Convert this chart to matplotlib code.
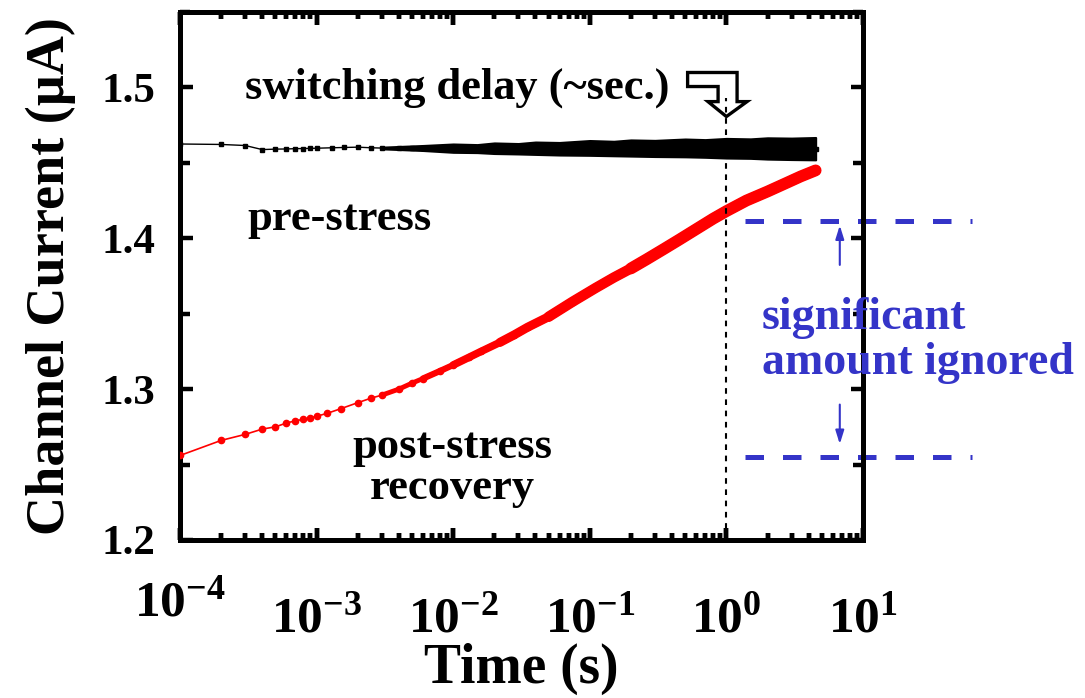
import matplotlib
matplotlib.use('Agg')
import matplotlib.pyplot as plt
import matplotlib.transforms as mtransforms
from matplotlib.patches import Polygon
from matplotlib.ticker import FixedLocator, FixedFormatter, MultipleLocator, NullFormatter

plt.rcParams['font.family'] = ['Liberation Serif', 'DejaVu Serif']
plt.rcParams['font.weight'] = 'bold'
plt.rcParams['mathtext.fontset'] = 'custom'
plt.rcParams['mathtext.rm'] = 'Liberation Serif:bold'
plt.rcParams['mathtext.bf'] = 'Liberation Serif:bold'

# pre-stress current (black), sparse markers
t_pre = [1e-4, 2e-4, 3e-4, 4e-4, 5e-4, 6e-4, 7e-4, 8e-4, 9e-4, 1e-3,
         1.3e-3, 1.6e-3, 2e-3, 2.5e-3, 3e-3, 4e-3, 5e-3, 6e-3, 8e-3, 1e-2,
         1.5e-2, 2e-2, 3e-2, 5e-2, 7e-2, 0.1, 0.15, 0.2, 0.3, 0.5, 0.7, 1.0,
         1.5, 2.0, 3.0, 4.5]
i_pre = [1.4625, 1.4622, 1.4615, 1.4588, 1.4591, 1.4592, 1.4594, 1.4595, 1.4596, 1.4597,
         1.4600, 1.4602, 1.4604, 1.4600, 1.4598, 1.4601, 1.4597, 1.4600, 1.4596, 1.4598,
         1.4600, 1.4596, 1.4598, 1.4595, 1.4597, 1.4596, 1.4598, 1.4595, 1.4597, 1.4596,
         1.4598, 1.4596, 1.4597, 1.4595, 1.4596, 1.4594]

# noise band of the pre-stress trace (upper / lower edge)
t_band = [3e-3, 6e-3, 1e-2, 1.5e-2, 2e-2, 3e-2, 4e-2, 6e-2, 0.1, 0.15, 0.2, 0.3,
          0.5, 0.7, 1.0, 1.5, 2.0, 3.0, 4.5]
band_hi = [1.4604, 1.4615, 1.4625, 1.4621, 1.4632, 1.4628, 1.4638, 1.4635, 1.4648, 1.4643,
           1.4652, 1.4649, 1.4658, 1.4654, 1.4662, 1.4659, 1.4666, 1.4664, 1.4668]
band_lo = [1.4593, 1.4582, 1.4570, 1.4568, 1.4562, 1.4559, 1.4556, 1.4552, 1.4550, 1.4547,
           1.4545, 1.4542, 1.4540, 1.4537, 1.4532, 1.4530, 1.4525, 1.4522, 1.4520]

# post-stress recovery current (red)
t_post = [1e-4, 2e-4, 3e-4, 4e-4, 5e-4, 6e-4, 7e-4, 8e-4, 9e-4, 1e-3,
          1.2e-3, 1.5e-3, 2e-3, 2.5e-3, 3e-3, 4e-3, 5e-3, 6e-3, 8e-3, 1e-2,
          1.3e-2, 1.6e-2, 2.2e-2, 2.8e-2, 3.5e-2, 5e-2, 7.5e-2, 0.11, 0.15, 0.2,
          0.26, 0.35, 0.45, 0.6, 0.8, 1.0, 1.4, 2.0, 2.8, 3.5, 4.5]
i_post = [1.256, 1.266, 1.270, 1.2735, 1.275, 1.2775, 1.279, 1.280, 1.281, 1.282,
          1.284, 1.287, 1.291, 1.294, 1.296, 1.300, 1.304, 1.307, 1.312, 1.316,
          1.321, 1.325, 1.331, 1.336, 1.341, 1.348, 1.358, 1.367, 1.374, 1.380,
          1.386, 1.393, 1.399, 1.406, 1.413, 1.418, 1.425, 1.431, 1.437, 1.441, 1.445]

xticks = [1e-4, 1e-3, 1e-2, 1e-1, 1e0, 1e1]
xtick_labels = [r'$\mathbf{10^{-4}}$', r'$\mathbf{10^{-3}}$', r'$\mathbf{10^{-2}}$',
                r'$\mathbf{10^{-1}}$', r'$\mathbf{10^{0}}$', r'$\mathbf{10^{1}}$']
x_minor = [m * 10.0 ** e for e in range(-4, 1) for m in range(2, 10)]
yticks = [1.2, 1.3, 1.4, 1.5]
ytick_labels = ['1.2', '1.3', '1.4', '1.5']

blue = '#3434c8'

fig = plt.figure(figsize=(10.85, 6.98), dpi=100)
ax = fig.add_axes([0.1659, 0.2264, 0.6295, 0.7564])
ax.set_xscale('log')
ax.set_xlim(1e-4, 1e1)
ax.set_ylim(1.2, 1.55)

# pre-stress
ax.fill_between(t_band, band_lo, band_hi, color='black', lw=1.5, edgecolor='black', zorder=3)
ax.plot(t_pre, i_pre, '-s', color='black', ms=3, lw=1, zorder=3)

# post-stress: markers merge into a thick trace where sampling is dense
ax.plot(t_post, i_post, '-o', color='red', ms=4.5, lw=1.2, zorder=4)
for t0, w in [(3e-3, 3.5), (6e-3, 4.5), (1e-2, 5.5), (2.2e-2, 6.5), (5e-2, 7.5), (0.2, 8.5)]:
    k = t_post.index(t0)
    ax.plot(t_post[k:], i_post[k:], color='red', lw=w, solid_capstyle='round',
            solid_joinstyle='round', zorder=4)

# switching delay marker
ax.plot([1, 1], [1.2, 1.493], color='black', lw=1.5, dashes=(2.7, 2.7), zorder=6)
arrow = Polygon([(0.52, 1.5099), (1.197, 1.5099), (1.197, 1.4906), (1.415, 1.4906),
                 (1.0, 1.4807), (0.733, 1.4906), (0.869, 1.4906), (0.869, 1.5006),
                 (0.52, 1.5006)], closed=True, facecolor='none', edgecolor='black',
                lw=2.4, joinstyle='miter', zorder=5)
ax.add_patch(arrow)

ax.text(3.0e-4, 1.4995, 'switching delay (~sec.)', fontsize=32, fontweight='bold',
        ha='left', va='center', zorder=7)
ax.text(3.1e-4, 1.413, 'pre-stress', fontsize=32, fontweight='bold', ha='left', va='center')
ax.text(9.8e-3, 1.248, 'post-stress\nrecovery', fontsize=32, fontweight='bold',
        ha='center', va='center', multialignment='center', linespacing=1.05)

# "ignored" bracket on the right, partly outside the axes
tr = mtransforms.blended_transform_factory(ax.transAxes, ax.transData)
for yv in [1.4112, 1.2553]:
    ax.plot([0.827, 1.16], [yv, yv], color=blue, lw=3.6, dashes=(3.7, 3.8),
            transform=tr, clip_on=False)
ax.annotate('', xy=(0.966, 1.4104), xytext=(0.966, 1.3805), xycoords=tr, textcoords=tr,
            arrowprops=dict(arrowstyle='-|>,head_length=0.8,head_width=0.25', color=blue, lw=1.5),
            annotation_clip=False)
ax.annotate('', xy=(0.966, 1.2617), xytext=(0.966, 1.2916), xycoords=tr, textcoords=tr,
            arrowprops=dict(arrowstyle='-|>,head_length=0.8,head_width=0.25', color=blue, lw=1.5),
            annotation_clip=False)
ax.text(0.852, 1.332, 'significant\namount ignored', transform=tr, color=blue, fontsize=33,
        fontweight='bold', ha='left', va='center', linespacing=1.1, clip_on=False)

# axes styling
for s in ax.spines.values():
    s.set_linewidth(3.6)
ax.xaxis.set_major_locator(FixedLocator(xticks))
ax.xaxis.set_major_formatter(FixedFormatter(xtick_labels))
ax.xaxis.set_minor_locator(FixedLocator(x_minor))
ax.xaxis.set_minor_formatter(NullFormatter())
ax.yaxis.set_major_locator(FixedLocator(yticks))
ax.yaxis.set_major_formatter(FixedFormatter(ytick_labels))
ax.yaxis.set_minor_locator(MultipleLocator(0.05))
ax.tick_params(which='both', direction='in', top=True, right=True, width=3.2)
ax.tick_params(which='major', length=9)
ax.tick_params(axis='x', which='minor', length=5)
ax.tick_params(axis='y', which='minor', length=7)
ax.tick_params(axis='x', which='major', labelsize=37, pad=41)
ax.tick_params(axis='y', which='major', labelsize=31, pad=18)
ax.xaxis.get_major_ticks()[0].set_pad(29)

# x tick marks on bottom and top spines, drawn as markers at the tick positions
xt = ax.get_xaxis_transform()
for locs, size in [(xticks, 9), (x_minor, 5)]:
    ax.plot(locs, [0] * len(locs), ls='none', marker=2, ms=size, mew=3.2, color='black',
            transform=xt, clip_on=False, zorder=6)
    ax.plot(locs, [1] * len(locs), ls='none', marker=3, ms=size, mew=3.2, color='black',
            transform=xt, clip_on=False, zorder=6)

ax.set_xlabel('Time (s)', fontsize=40, fontweight='bold', labelpad=0)
ax.set_ylabel('Channel Current (\u00b5A)', fontsize=39, fontweight='bold', labelpad=18)

fig.savefig('out.png', dpi=100)
